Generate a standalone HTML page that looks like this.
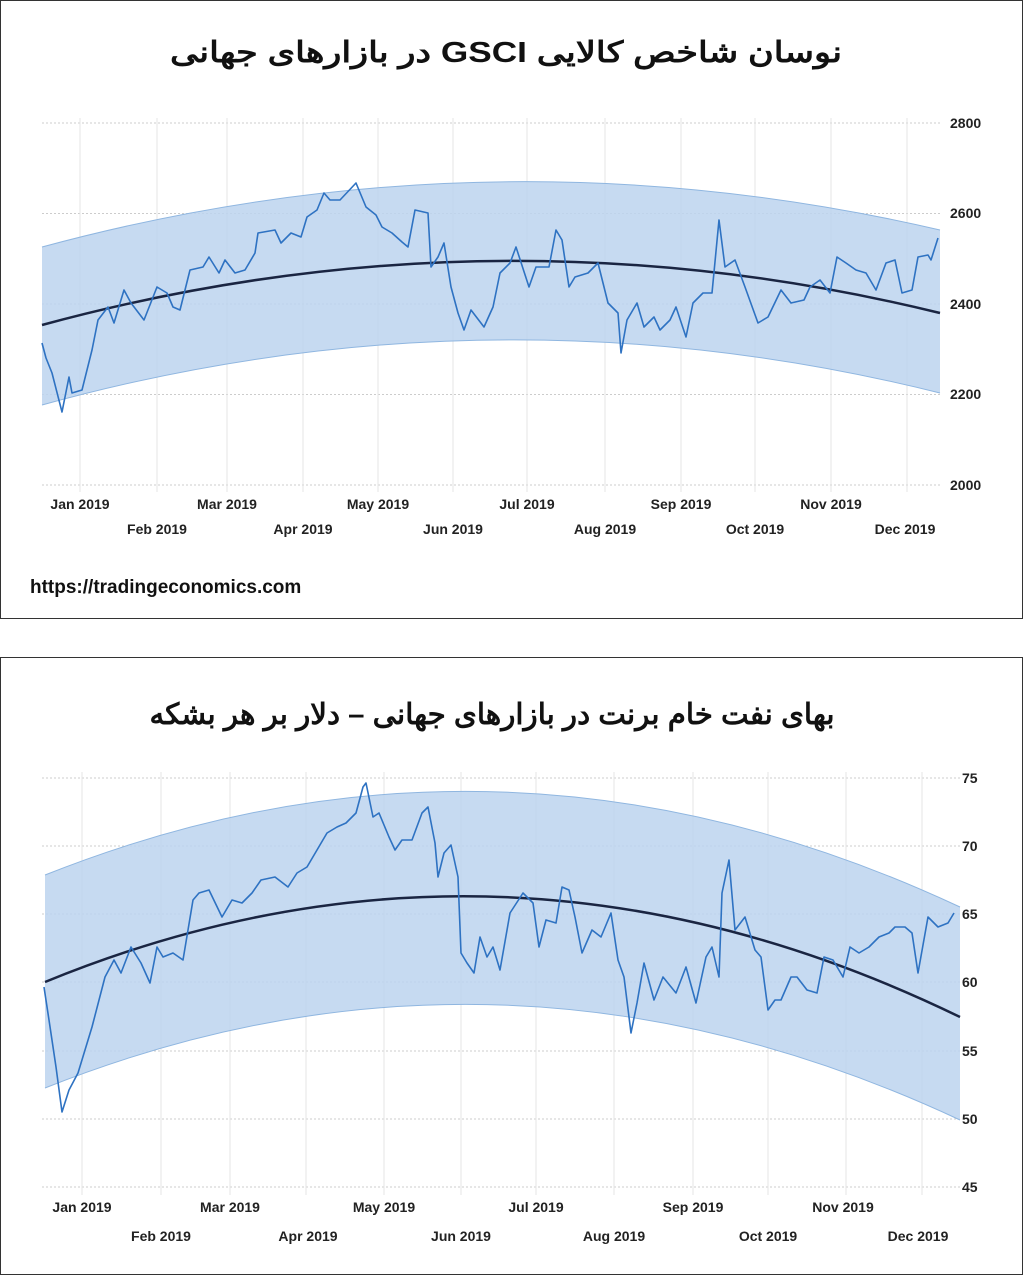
<!DOCTYPE html>
<html><head><meta charset="utf-8"><style>
html,body{margin:0;padding:0;background:#fff;}
svg{display:block}
.t{font-family:"Liberation Sans","Noto Sans CJK SC",sans-serif;font-weight:bold;font-size:29px;fill:#111}
.ax{font-family:"Liberation Sans",sans-serif;font-size:14px;fill:#222;font-weight:bold}
</style></head><body>
<svg width="1024" height="1276" viewBox="0 0 1024 1276" xmlns="http://www.w3.org/2000/svg">
<rect x="0.5" y="0.5" width="1022" height="618" fill="#fff" stroke="#333"/>
<rect x="0.5" y="657.5" width="1022" height="617" fill="#fff" stroke="#333"/>
<text class="t" x="506" y="62" text-anchor="middle" direction="rtl" textLength="672" lengthAdjust="spacingAndGlyphs">نوسان شاخص کالایی GSCI  در بازارهای جهانی</text>
<text class="t" x="492" y="724" text-anchor="middle" direction="rtl" textLength="685" lengthAdjust="spacingAndGlyphs">بهای نفت خام برنت در بازارهای جهانی – دلار بر هر بشکه</text>
<text x="30" y="593" font-family="Liberation Sans,sans-serif" font-weight="bold" font-size="19" fill="#111">https://tradingeconomics.com</text>

<g stroke="#ccc" stroke-width="1" stroke-dasharray="2,2">
<line x1="42" x2="940" y1="123" y2="123"/><line x1="42" x2="940" y1="213.5" y2="213.5"/><line x1="42" x2="940" y1="304" y2="304"/><line x1="42" x2="940" y1="394.5" y2="394.5"/><line x1="42" x2="940" y1="485" y2="485"/>
</g>
<g stroke="#e4e4e4" stroke-width="1">
<line x1="80" x2="80" y1="118" y2="492"/><line x1="157" x2="157" y1="118" y2="492"/><line x1="227" x2="227" y1="118" y2="492"/><line x1="303" x2="303" y1="118" y2="492"/><line x1="378" x2="378" y1="118" y2="492"/><line x1="453" x2="453" y1="118" y2="492"/><line x1="527" x2="527" y1="118" y2="492"/><line x1="605" x2="605" y1="118" y2="492"/><line x1="681" x2="681" y1="118" y2="492"/><line x1="755" x2="755" y1="118" y2="492"/><line x1="831" x2="831" y1="118" y2="492"/><line x1="907" x2="907" y1="118" y2="492"/>
</g>
<path d="M42,247 Q491,125.5 940,230 L940,393 Q491,281 42,405 Z" fill="#bcd4ee" fill-opacity="0.85"/>
<path d="M42,247 Q491,125.5 940,230" fill="none" stroke="#8fb6e0" stroke-width="1"/>
<path d="M42,405 Q491,281 940,393" fill="none" stroke="#8fb6e0" stroke-width="1"/>
<path d="M42,325 Q491,203 940,313" fill="none" stroke="#1a2542" stroke-width="2.5"/>
<polyline fill="none" stroke="#2e72c2" stroke-width="1.6" stroke-linejoin="round" points="42,343 46,358 52,373 62,412 69,377 72,393 82,390 92,350 98,320 108,307 114,323 124,290 131,303 144,320 157,287 167,293 173,307 180,310 190,270 203,267 209,257 219,273 225,260 235,273 245,270 255,253 258,233 275,230 281,243 291,233 301,237 307,217 317,210 324,193 330,200 340,200 356,183 366,207 376,215 382,227 392,233 402,242 408,247 415,210 428,213 431,267 438,257 444,243 451,287 458,313 464,330 471,310 484,327 493,307 500,273 510,263 516,247 529,287 536,267 549,267 556,230 562,240 569,287 575,277 588,273 598,263 608,303 618,313 621,353 627,320 637,303 644,327 654,317 660,330 670,320 676,307 686,337 693,303 703,293 712,293 719,220 725,267 735,260 745,287 758,323 768,317 781,290 791,303 804,300 810,287 820,280 830,293 837,257 846,263 856,270 866,273 876,290 886,263 895,260 902,293 912,290 918,257 928,255 931,260 938,238"/>
<g class="ax">
<text x="950" y="128">2800</text><text x="950" y="218">2600</text><text x="950" y="309">2400</text><text x="950" y="399">2200</text><text x="950" y="490">2000</text>
<g text-anchor="middle">
<text x="80" y="509">Jan 2019</text><text x="227" y="509">Mar 2019</text><text x="378" y="509">May 2019</text><text x="527" y="509">Jul 2019</text><text x="681" y="509">Sep 2019</text><text x="831" y="509">Nov 2019</text>
<text x="157" y="534">Feb 2019</text><text x="303" y="534">Apr 2019</text><text x="453" y="534">Jun 2019</text><text x="605" y="534">Aug 2019</text><text x="755" y="534">Oct 2019</text><text x="905" y="534">Dec 2019</text>
</g></g>

<g stroke="#ccc" stroke-width="1" stroke-dasharray="2,2">
<line x1="42" x2="960" y1="778" y2="778"/><line x1="42" x2="960" y1="846" y2="846"/><line x1="42" x2="960" y1="914" y2="914"/><line x1="42" x2="960" y1="982" y2="982"/><line x1="42" x2="960" y1="1051" y2="1051"/><line x1="42" x2="960" y1="1119" y2="1119"/><line x1="42" x2="960" y1="1187" y2="1187"/>
</g>
<g stroke="#e4e4e4" stroke-width="1">
<line x1="82" x2="82" y1="772" y2="1195"/><line x1="161" x2="161" y1="772" y2="1195"/><line x1="230" x2="230" y1="772" y2="1195"/><line x1="306" x2="306" y1="772" y2="1195"/><line x1="384" x2="384" y1="772" y2="1195"/><line x1="461" x2="461" y1="772" y2="1195"/><line x1="536" x2="536" y1="772" y2="1195"/><line x1="614" x2="614" y1="772" y2="1195"/><line x1="693" x2="693" y1="772" y2="1195"/><line x1="768" x2="768" y1="772" y2="1195"/><line x1="846" x2="846" y1="772" y2="1195"/><line x1="922" x2="922" y1="772" y2="1195"/>
</g>
<path d="M45,875 Q502,693 960,907 L960,1120 Q502,906 45,1088 Z" fill="#bcd4ee" fill-opacity="0.85"/>
<path d="M45,875 Q502,693 960,907" fill="none" stroke="#8fb6e0" stroke-width="1"/>
<path d="M45,1088 Q502,906 960,1120" fill="none" stroke="#8fb6e0" stroke-width="1"/>
<path d="M45,982 Q502,794.5 960,1017" fill="none" stroke="#1a2542" stroke-width="2.5"/>
<polyline fill="none" stroke="#2e72c2" stroke-width="1.6" stroke-linejoin="round" points="44,987 49,1020 56,1067 62,1112 69,1090 78,1073 92,1027 105,977 114,960 121,973 131,947 141,963 150,983 157,947 163,957 173,953 183,960 193,900 199,893 209,890 222,917 232,900 242,903 252,893 261,880 275,877 288,887 297,873 307,867 317,850 327,833 337,827 346,823 356,813 363,787 366,783 373,817 379,813 389,837 395,850 402,840 412,840 422,813 428,807 435,843 438,877 444,853 451,845 458,877 461,953 467,963 474,973 480,937 487,957 493,947 500,970 510,913 523,893 533,903 539,947 546,920 556,923 562,887 569,890 575,917 582,953 592,930 601,937 611,913 618,960 624,977 631,1033 637,1003 644,963 654,1000 663,977 676,993 686,967 696,1003 706,957 712,947 719,977 722,893 729,860 735,930 745,917 755,950 761,957 768,1010 775,1000 781,1000 791,977 797,977 807,990 817,993 824,957 833,960 843,977 850,947 859,953 869,947 879,937 889,933 895,927 905,927 912,933 918,973 928,917 938,927 948,923 954,913"/>
<g class="ax">
<text x="962" y="783">75</text><text x="962" y="851">70</text><text x="962" y="919">65</text><text x="962" y="987">60</text><text x="962" y="1056">55</text><text x="962" y="1124">50</text><text x="962" y="1192">45</text>
<g text-anchor="middle">
<text x="82" y="1212">Jan 2019</text><text x="230" y="1212">Mar 2019</text><text x="384" y="1212">May 2019</text><text x="536" y="1212">Jul 2019</text><text x="693" y="1212">Sep 2019</text><text x="843" y="1212">Nov 2019</text>
<text x="161" y="1241">Feb 2019</text><text x="308" y="1241">Apr 2019</text><text x="461" y="1241">Jun 2019</text><text x="614" y="1241">Aug 2019</text><text x="768" y="1241">Oct 2019</text><text x="918" y="1241">Dec 2019</text>
</g></g>
</svg>
</body></html>
